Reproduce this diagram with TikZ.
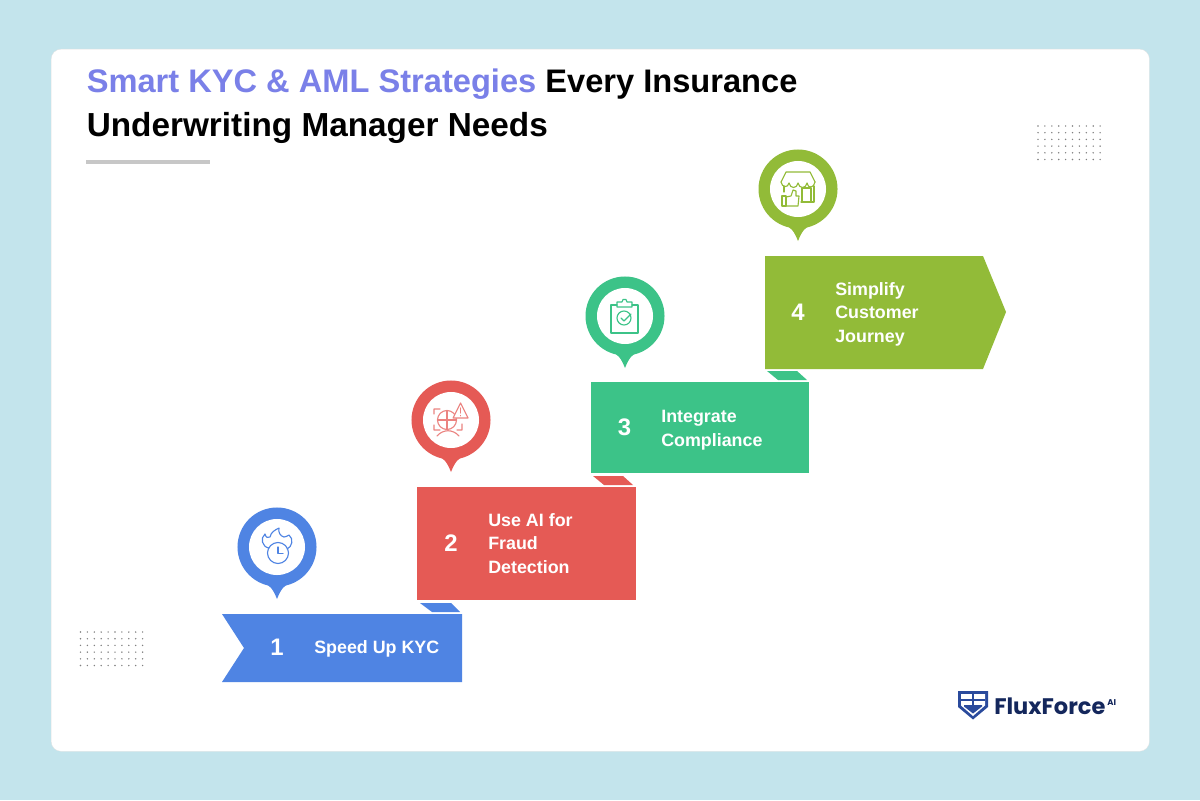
\documentclass[tikz,border=0pt]{standalone}
\usepackage{fontspec}
\setmainfont{Liberation Sans}
\newfontfamily\logofont{Poppins}
\usepackage{xcolor}
\definecolor{bgcol}{HTML}{C3E4EC}
\definecolor{bluecol}{HTML}{4F84E3}
\definecolor{redcol}{HTML}{E55A55}
\definecolor{greencol}{HTML}{3CC388}
\definecolor{olivecol}{HTML}{92BB38}
\definecolor{titlecol}{HTML}{7A80E8}
\definecolor{navycol}{HTML}{14275C}
\definecolor{shieldcol}{HTML}{2A4A9C}
\tikzstyle{card} = [rectangle, rounded corners=0.25cm, minimum width=27.45cm, minimum height=17.55cm, fill=white, draw=black!12, line width=0.2pt, anchor=north west]
\tikzstyle{title} = [anchor=base west, inner sep=0pt, font=\bfseries]
\tikzstyle{num} = [text=white, inner sep=0pt, font=\fontsize{17}{20}\selectfont\bfseries]
\tikzstyle{label} = [text=white, anchor=west, align=left, inner sep=0pt, font=\fontsize{12.7}{16.7}\selectfont\bfseries]
\tikzstyle{pinout} = [circle, minimum size=1.975cm, inner sep=0pt]
\tikzstyle{pinin} = [circle, minimum size=1.4cm, inner sep=0pt, fill=white]
\tikzstyle{icon} = [line width=0.8pt, line cap=round, line join=round]
\begin{document}
\begin{tikzpicture}[x=0.025cm, y=-0.025cm]
    \useasboundingbox (0,0) rectangle (1200,800);
    \fill[bgcol] (0,0) rectangle (1200,800);
    \node (panel) [card] at (51,49) {};

    \node (head) [title] at (86.5,93) {\fontsize{23.2}{28}\selectfont\textcolor{titlecol}{Smart KYC \& AML Strategies} Every Insurance};
    \node (subhead) [title] at (86.5,137) {\fontsize{23.7}{28}\selectfont Underwriting Manager Needs};
    \fill[black!22] (86,160) rectangle (210,164.5);

    \foreach \i in {0,...,9} \foreach \j in {0,...,5} {
        \fill[black!50] (1038+6.9*\i,126+6.7*\j) circle [radius=0.8];
        \fill[black!50] (80.5+6.9*\i,632+6.7*\j) circle [radius=0.8];
    }

    \fill[bluecol] (222,614) -- (462,614) -- (462,682) -- (222,682) -- (244,648) -- cycle;
    \fill[bluecol] (420,603) -- (451,603) -- (460,612) -- (432,612) -- cycle;
    \fill[redcol] (417,487) rectangle (636,600);
    \fill[redcol] (593,476) -- (623,476) -- (633,485) -- (604,485) -- cycle;
    \fill[greencol] (591,382) rectangle (809,473);
    \fill[greencol] (767,371) -- (797,371) -- (807,380) -- (778,380) -- cycle;
    \fill[olivecol] (765,256) -- (983,256) -- (1006,312) -- (983,369) -- (765,369) -- cycle;

    \node (n1) [num] at (277,647) {1};
    \node (t1) [label] at (314,649) {Speed Up KYC};
    \node (n2) [num] at (451,543) {2};
    \node (t2) [label] at (488,543.5) {Use AI for\\Fraud\\Detection};
    \node (n3) [num] at (624.5,427) {3};
    \node (t3) [label] at (661,430) {Integrate\\Compliance};
    \node (n4) [num] at (798,312) {4};
    \node (t4) [label] at (835,314) {Simplify\\Customer\\Journey};

    \foreach \cx/\cy/\col/\nm in {277/547/bluecol/a, 451/420/redcol/b, 625/316/greencol/c, 798/189/olivecol/d} {
        \node (pin\nm) [pinout, fill=\col] at (\cx,\cy) {};
        \fill[\col] (\cx-15,\cy+35) .. controls (\cx-7,\cy+38) and (\cx-4,\cy+42) .. (\cx,\cy+52) .. controls (\cx+4,\cy+42) and (\cx+7,\cy+38) .. (\cx+15,\cy+35) -- cycle;
        \node (hole\nm) [pinin] at (\cx,\cy) {};
    }

    \begin{scope}[shift={(277,547)}, icon, draw=bluecol]
        \draw (1,6) circle [radius=10.5];
        \draw (1,0) -- (1,6.5) -- (6,6.5);
        \draw (-8,1) .. controls (-15,0) and (-17,-9) .. (-12,-13) .. controls (-11,-9) and (-9,-9) .. (-7,-10) .. controls (-6,-15) and (-2,-17) .. (2,-19) .. controls (1,-15) and (3,-11) .. (7,-10) .. controls (9,-10) and (10,-11) .. (12,-12) .. controls (17,-8) and (15,0) .. (10,2);
    \end{scope}

    \begin{scope}[shift={(451,420)}, icon, draw=redcol!75]
        \draw (-4,0) circle [radius=9.5];
        \draw (-13.5,0) -- (5.5,0) (-4,-9.5) -- (-4,9.5);
        \draw (-11,-11) -- (-17,-11) -- (-17,-6) (-17,5) -- (-17,10) -- (-11,10) (11,4) -- (11,10) -- (6,10) (-14,16) .. controls (-8,9) and (2,9) .. (8,16);
        \fill[white] (9.5,-17) -- (17,-2) -- (2,-2) -- cycle;
        \draw (9.5,-17) -- (17,-2) -- (2,-2) -- cycle;
        \draw (9.5,-12) -- (9.5,-7) (9.5,-4.6) -- (9.5,-4.2);
    \end{scope}

    \begin{scope}[shift={(625,316)}, icon, draw=greencol]
        \draw (-8,-11) -- (-14,-11) -- (-14,17) -- (13,17) -- (13,-11) -- (7,-11);
        \draw (-8,-9) -- (-8,-14) -- (-3,-14) -- (-2,-16.5) -- (1,-16.5) -- (2,-14) -- (7,-14) -- (7,-9) -- cycle;
        \draw (-1,2) circle [radius=7];
        \draw (-4,2) -- (-1,5) -- (6,-2);
    \end{scope}

    \begin{scope}[shift={(798,189)}, icon, draw=olivecol]
        \draw (-12,-17) -- (12,-17) -- (17,-7) (-17,-7) -- (-12,-17);
        \draw (-17,-7) .. controls (-16,-1) and (-10,-1) .. (-9,-6) .. controls (-8,0) and (-1,0) .. (0,-6) .. controls (1,0) and (8,0) .. (9,-6) .. controls (10,0) and (16,-1) .. (17,-7);
        \draw (-14,-3) -- (-14,3) (16,-3) -- (16,13) -- (3,13);
        \draw (4,13) -- (4,-1) -- (13,-1) -- (13,13);
        \draw (-16,7) -- (-16,17) -- (-12,17) -- (-12,7) -- cycle;
        \draw (-12,8) -- (-7,7) -- (-5,1) -- (-2,2) -- (-2,7) -- (1,7) -- (0,17) -- (-12,17);
    \end{scope}

    \fill[shieldcol] (958,691) -- (988,691) -- (988,707) -- (973,719.5) -- (958,707) -- cycle;
    \fill[white] (961,694) -- (985,694) -- (985,705.5) -- (973,716) -- (961,705.5) -- cycle;
    \fill[shieldcol] (964,705) -- (982,705) -- (982,706.5) -- (973,713.5) -- (964,706.5) -- cycle;
    \draw[shieldcol, line width=1pt] (961,700) -- (985,700) (973,694) -- (973,705);
    \node (logo) [anchor=base west, inner sep=0pt, text=navycol, font=\fontsize{16}{20}\logofont\bfseries] at (994,714) {FluxForce};
    \node (logoai) [anchor=base west, inner sep=0pt, text=navycol, font=\fontsize{6}{8}\logofont\bfseries] at (1107,705) {AI};
\end{tikzpicture}
\end{document}
